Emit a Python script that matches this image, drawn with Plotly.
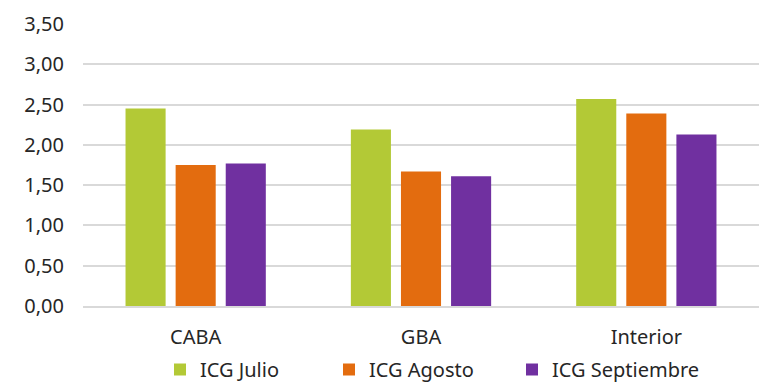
import plotly.graph_objects as go

categories = ["CABA", "GBA", "Interior"]
julio = [2.45, 2.19, 2.57]
agosto = [1.75, 1.67, 2.39]
septiembre = [1.77, 1.61, 2.13]
series_names = ["ICG Julio", "ICG Agosto", "ICG Septiembre"]
colors = ["#b3c936", "#e36c0f", "#7030a0"]
y_ticks = [0, 0.5, 1, 1.5, 2, 2.5, 3, 3.5]

legend_ids = ["legend", "legend2", "legend3"]
legend_left_px = [160, 329, 512]

fig = go.Figure()
for name, vals, col, lid in zip(series_names, [julio, agosto, septiembre], colors, legend_ids):
    fig.add_trace(go.Bar(name=name, x=categories, y=vals, legend=lid,
                         marker=dict(color=col, line=dict(width=0))))

font_family = "Noto Sans"
legend_common = dict(orientation="h", xref="container", yref="container",
                     xanchor="left", y=1 - 350 / 390, yanchor="top", itemwidth=30,
                     bgcolor="rgba(0,0,0,0)",
                     font=dict(size=20, family=font_family, color="#262626"))
layout_legends = {lid: dict(legend_common, x=px / 780) for lid, px in zip(legend_ids, legend_left_px)}

fig.update_layout(
    width=780, height=390,
    margin=dict(l=83, r=21, t=24, b=84, autoexpand=False),
    paper_bgcolor="white", plot_bgcolor="white",
    separators=",.",
    barmode="group", bargap=0.333, bargroupgap=0.2,
    font=dict(family=font_family, size=20, color="#262626"),
    showlegend=True,
    xaxis=dict(showgrid=False, showline=True, linecolor="#d9d9d9", linewidth=1.5,
               ticks="", tickfont=dict(size=20), ticklabelstandoff=12),
    yaxis=dict(range=[0, 3.5], tickvals=y_ticks, tickformat=".2f",
               showgrid=True, gridcolor="#d9d9d9", gridwidth=1.5,
               zeroline=False, showline=False, ticks="",
               ticklabelstandoff=18, tickfont=dict(size=20)),
    **layout_legends,
)

fig.write_html("out.html")
